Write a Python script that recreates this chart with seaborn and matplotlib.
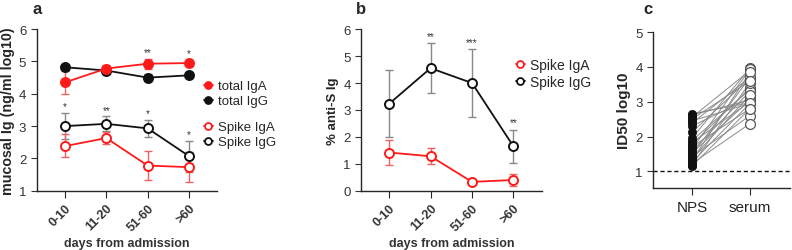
import numpy as np
import pandas as pd
import seaborn as sns
from matplotlib import pyplot as plt
from matplotlib.lines import Line2D

# ---- data -------------------------------------------------------------
days = ["0-10", "11-20", "51-60", ">60"]

# panel a: mucosal Ig (log10 ng/ml)
total_iga = [4.35, 4.78, 4.93, 4.95]
total_iga_lo = [4.00, 4.68, 4.78, 4.85]
total_iga_hi = [4.72, 4.88, 5.08, 5.05]
total_igg = [4.82, 4.72, 4.50, 4.57]
total_igg_lo = [4.80, 4.65, 4.40, 4.52]
total_igg_hi = [4.84, 4.80, 4.60, 4.62]
spike_iga_a = [2.38, 2.63, 1.78, 1.73]
spike_iga_a_lo = [2.03, 2.45, 1.32, 1.27]
spike_iga_a_hi = [2.75, 2.82, 2.23, 2.20]
spike_igg_a = [3.00, 3.07, 2.93, 2.07]
spike_igg_a_lo = [2.60, 2.85, 2.67, 1.58]
spike_igg_a_hi = [3.40, 3.30, 3.20, 2.55]
stars_a_top = ["", "", "**", "*"]
stars_a_spike = ["*", "**", "*", "*"]

# panel b: % anti-S Ig
spike_iga_b = [1.42, 1.28, 0.33, 0.40]
spike_iga_b_lo = [0.97, 0.98, 0.25, 0.18]
spike_iga_b_hi = [1.90, 1.57, 0.40, 0.62]
spike_igg_b = [3.23, 4.55, 4.00, 1.65]
spike_igg_b_lo = [2.00, 3.62, 2.72, 1.03]
spike_igg_b_hi = [4.47, 5.47, 5.27, 2.27]
stars_b = ["", "**", "***", "**"]

# panel c: paired ID50 log10
groups_c = ["NPS", "serum"]
nps = [2.65, 2.62, 2.55, 2.45, 2.38, 2.30, 2.12, 1.95, 1.88, 1.82, 1.76, 1.70,
       1.64, 1.58, 1.52, 1.47, 1.42, 1.36, 1.30, 1.26, 1.22, 1.18, 1.15, 2.50]
serum = [2.97, 3.05, 3.90, 2.95, 3.70, 3.10, 3.68, 3.97, 3.35, 3.00, 3.40, 2.80,
         3.93, 3.30, 3.05, 3.70, 2.60, 3.20, 3.85, 2.95, 2.37, 3.55, 2.80, 3.60]

RED = "#ff1a1a"
BLACK = "#111111"
TXT = "#333333"

sns.set_style("ticks")
plt.rcParams["font.family"] = ["Liberation Sans", "DejaVu Sans"]
plt.rcParams["axes.linewidth"] = 1.0

fig = plt.figure(figsize=(7.92, 2.51), dpi=100)
ax_a = fig.add_axes([0.0463, 0.236, 0.228, 0.644])
ax_b = fig.add_axes([0.4558, 0.236, 0.228, 0.644])
ax_c = fig.add_axes([0.8245, 0.247, 0.173, 0.621])


def draw_series(ax, y, lo, hi, color, filled, ecolor):
    x = np.arange(len(days))
    y = np.array(y)
    yerr = [y - np.array(lo), np.array(hi) - y]
    ax.errorbar(x, y, yerr=yerr, fmt="none", ecolor=ecolor, elinewidth=1.0,
                capsize=3, capthick=1.0, zorder=1)
    df = pd.DataFrame({"day": days, "val": y})
    sns.lineplot(data=df, x="day", y="val", ax=ax, color=color, lw=1.3,
                 marker="o", markersize=6.5,
                 markerfacecolor=color if filled else "white",
                 markeredgecolor=color, markeredgewidth=1.4, sort=False,
                 zorder=3)


def put_stars(ax, hi, stars, pad):
    for i, s in enumerate(stars):
        if s:
            ax.text(i, hi[i] + pad, s, ha="center", va="bottom", fontsize=7,
                    color=TXT)


def style_panel(ax, ylabel, ylsize, ylim, yticks, letter):
    ax.set_xlim(-0.68, 3.68)
    ax.set_ylim(*ylim)
    ax.set_yticks(yticks)
    ax.set_xticks(range(len(days)))
    ax.set_xticklabels(days, rotation=45, ha="right", rotation_mode="anchor",
                       fontsize=9, fontweight="bold", color=TXT)
    ax.tick_params(axis="y", labelsize=9.5, colors=TXT, length=4)
    ax.tick_params(axis="x", length=5, pad=3)
    ax.set_xlabel("days from admission", fontsize=9, fontweight="bold",
                  color=TXT)
    ax.xaxis.set_label_coords(0.5, -0.285)
    ax.set_ylabel(ylabel, fontsize=ylsize, fontweight="bold", labelpad=3)
    sns.despine(ax=ax)
    ax.text(0.0, 1.1, letter, transform=ax.transAxes, fontsize=12,
            fontweight="bold", ha="center")


def legend_handles(filled, ms):
    out = []
    for c in (RED, BLACK):
        out.append(Line2D([], [], color=c, marker="o", ms=ms, lw=1.3,
                          mfc=c if filled else "white", mew=1.3))
    return out


# ---- panel a ----------------------------------------------------------
draw_series(ax_a, total_igg, total_igg_lo, total_igg_hi, BLACK, True, "#777777")
draw_series(ax_a, total_iga, total_iga_lo, total_iga_hi, RED, True, "#f06060")
draw_series(ax_a, spike_igg_a, spike_igg_a_lo, spike_igg_a_hi, BLACK, False, "#888888")
draw_series(ax_a, spike_iga_a, spike_iga_a_lo, spike_iga_a_hi, RED, False, "#f06060")
put_stars(ax_a, total_iga_hi, stars_a_top, 0.05)
put_stars(ax_a, spike_igg_a_hi, stars_a_spike, 0.05)
style_panel(ax_a, "mucosal Ig (ng/ml log10)", 10.3, (1, 6), range(1, 7), "a")

leg_kw = dict(loc="upper left", frameon=False, fontsize=9.5, handlelength=0.7,
              handletextpad=0.4, labelspacing=0.2, borderaxespad=0,
              borderpad=0)
leg1 = ax_a.legend(legend_handles(True, 5), ["total IgA", "total IgG"],
                   bbox_to_anchor=(0.924, 0.685), **leg_kw)
ax_a.add_artist(leg1)
ax_a.legend(legend_handles(False, 5), ["Spike IgA", "Spike IgG"],
            bbox_to_anchor=(0.924, 0.43), **leg_kw)

# ---- panel b ----------------------------------------------------------
draw_series(ax_b, spike_igg_b, spike_igg_b_lo, spike_igg_b_hi, BLACK, False, "#888888")
draw_series(ax_b, spike_iga_b, spike_iga_b_lo, spike_iga_b_hi, RED, False, "#f06060")
put_stars(ax_b, spike_igg_b_hi, stars_b, 0.08)
style_panel(ax_b, "% anti-S Ig", 9.5, (0, 6), range(0, 7), "b")
leg_b = dict(leg_kw, fontsize=10, handlelength=0.6)
ax_b.legend(legend_handles(False, 5), ["Spike IgA", "Spike IgG"],
            bbox_to_anchor=(0.86, 0.82), **leg_b)

# ---- panel c ----------------------------------------------------------
df_c = pd.DataFrame({"group": ["NPS"] * len(nps) + ["serum"] * len(serum),
                     "val": nps + serum,
                     "pair": list(range(len(nps))) * 2})
for pid, sub in df_c.groupby("pair"):
    ax_c.plot([0, 1], sub["val"].values, color="#8a8a8a", lw=0.7, zorder=1)
sns.scatterplot(data=df_c[df_c.group == "NPS"], x=np.zeros(len(nps)), y="val",
                ax=ax_c, color=BLACK, s=36, edgecolor=BLACK, zorder=3)
sns.scatterplot(data=df_c[df_c.group == "serum"], x=np.ones(len(serum)), y="val",
                ax=ax_c, facecolor="white", s=50, edgecolor="#555555",
                linewidth=0.9, zorder=3)
ax_c.axhline(1, color=BLACK, ls=(0, (3, 2)), lw=1.0, zorder=0)
ax_c.set_xlim(-0.67, 1.69)
ax_c.set_ylim(0.52, 5)
ax_c.set_yticks(range(1, 6))
ax_c.set_xticks([0, 1])
ax_c.set_xticklabels(groups_c, fontsize=11, color="#222222")
ax_c.tick_params(axis="y", labelsize=9.5, colors=TXT, length=4)
ax_c.tick_params(axis="x", length=5)
ax_c.set_xlabel("")
ax_c.set_ylabel("ID50 log10", fontsize=11, fontweight="bold", labelpad=3)
sns.despine(ax=ax_c)
ax_c.text(-0.04, 1.12, "c", transform=ax_c.transAxes, fontsize=12,
          fontweight="bold", ha="center")

fig.savefig("out.png", dpi=100)
